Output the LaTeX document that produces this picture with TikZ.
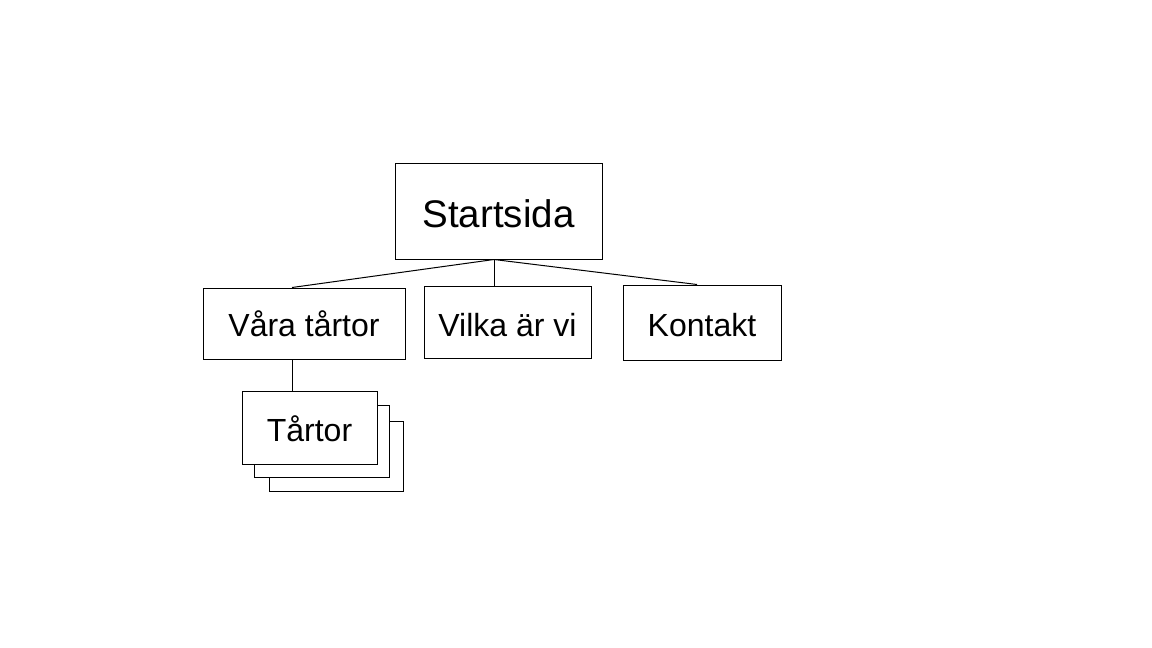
\documentclass[tikz,border=0pt]{standalone}
\usepackage{fontspec}
\setmainfont{Liberation Sans}
\begin{document}
\begin{tikzpicture}[x=1pt,y=-1pt,
  box/.style={draw=black, fill=white, line width=1pt, inner sep=0pt, text depth=0pt, font=\fontsize{32}{38}\selectfont},
  conn/.style={draw=black, line width=1pt}]
\path[use as bounding box, fill=white] (0,0) rectangle (1152,648);
% start
\node[box, minimum width=207pt, minimum height=96pt, text height=32pt, font=\fontsize{38.5}{46}\selectfont] (start) at (498.5,211) {Startsida};
\node[box, minimum width=202pt, minimum height=71pt, text height=25pt] (vara) at (304,323.5) {Våra tårtor};
\node[box, minimum width=167pt, minimum height=72pt, text height=28pt] (vilka) at (507.5,322) {Vilka är vi};
\node[box, minimum width=158pt, minimum height=75pt, text height=27pt] (kontakt) at (702,322.5) {Kontakt};
% stacked pages
\node[box, minimum width=134pt, minimum height=70pt] (t3) at (336,456) {};
\node[box, minimum width=135pt, minimum height=72pt] (t2) at (321.5,441) {};
\node[box, minimum width=135pt, minimum height=73pt, text height=28pt] (t1) at (309.5,427.5) {Tårtor};
% connectors
\coordinate (j) at ([xshift=-4.5pt]start.south);
\draw[conn] (j) -- ([xshift=-12pt]vara.north);
\draw[conn] (j) -- (j |- vilka.north);
\draw[conn] (j) -- ([xshift=-5pt]kontakt.north);
\draw[conn] ([xshift=-12pt]vara.south) -- ([xshift=-17.5pt]t1.north);
\end{tikzpicture}
\end{document}
